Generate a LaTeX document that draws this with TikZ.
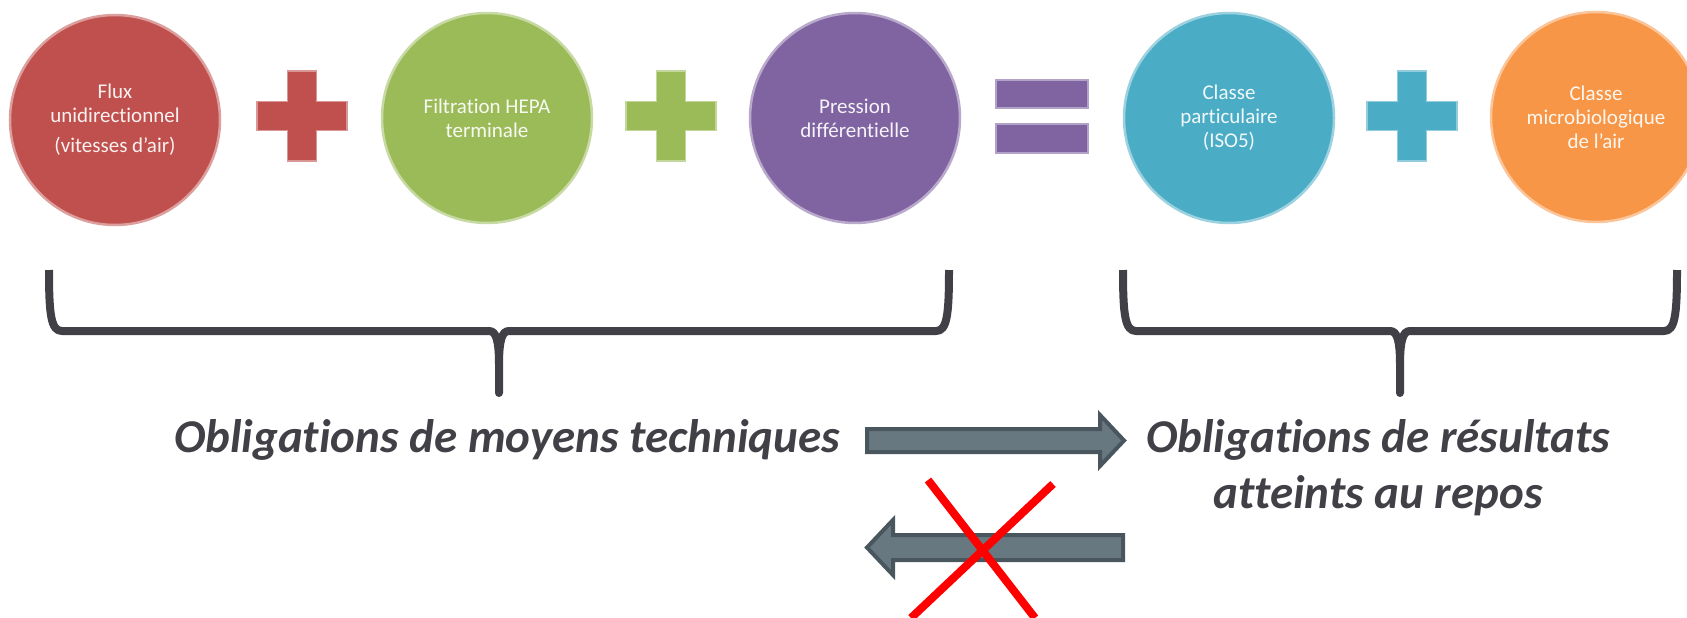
\documentclass[tikz,border=0pt]{standalone}
\usepackage{fontspec}
\setmainfont{Carlito}[Ligatures={NoCommon}]
\definecolor{cred}{HTML}{C0504D}
\definecolor{cgreen}{HTML}{9BBB59}
\definecolor{cpurple}{HTML}{8064A2}
\definecolor{cblue}{HTML}{4BACC6}
\definecolor{corange}{HTML}{F79646}
\definecolor{braceg}{HTML}{404046}
\definecolor{arrfill}{HTML}{687880}
\definecolor{arrdraw}{HTML}{4A565D}
\begin{document}
\begin{tikzpicture}[x=1pt,y=-1pt,
  bubble/.style={circle, minimum size=210pt, inner sep=0pt, align=center,
    font=\fontsize{21}{24}\selectfont, text=white!92!#1, fill=#1,
    draw=#1!55!white, line width=2.5pt},
  bracestyle/.style={draw=braceg, line width=8pt, line join=round},
  bigtext/.style={text=braceg, font=\fontsize{47}{56}\selectfont\bfseries\itshape, inner sep=0pt},
  blockarrow/.style={fill=arrfill, draw=arrdraw, line width=4pt},
  cross/.style={draw=red, line width=8pt},
  plussign/.pic={\filldraw[pic actions] (-14.5,-45) -- (14.5,-45) -- (14.5,-14.5) -- (45,-14.5)
     -- (45,14.5) -- (14.5,14.5) -- (14.5,45) -- (-14.5,45) -- (-14.5,14.5) -- (-45,14.5)
     -- (-45,-14.5) -- (-14.5,-14.5) -- cycle;},
  ]
\useasboundingbox (0,0) rectangle (1687,618);
\clip (0,0) rectangle (1687,618);

% circles
\node[bubble=cred] (flux) at (115,120) {Flux\\unidirectionnel\\[6pt](vitesses d’air)};
\node[bubble=cgreen] (hepa) at (487,118) {Filtration HEPA\\terminale};
\node[bubble=cpurple] (press) at (855,118) {Pression\\différentielle};
\node[bubble=cblue] (iso) at (1229,118) {Classe\\particulaire\\(ISO5)};
\node[bubble=corange] (micro) at (1596,117) {Classe\\microbiologique\\de l’air};

% operators
\pic[fill=cred, draw=cred!60!white, line width=1.5pt] (p1) at (302,116) {plussign};
\pic[fill=cgreen, draw=cgreen!60!white, line width=1.5pt] (p2) at (671,116) {plussign};
\pic[fill=cblue, draw=cblue!60!white, line width=1.5pt] (p3) at (1412,116) {plussign};
\filldraw[fill=cpurple, draw=cpurple!60!white, line width=1.5pt] (996,80) rectangle (1088,108);
\filldraw[fill=cpurple, draw=cpurple!60!white, line width=1.5pt] (996,124) rectangle (1088,153);

% braces
\draw[bracestyle] (49,270) .. controls (49,315) and (51,331) .. (62,331) -- (489,331)
  .. controls (496,331) and (499,340) .. (499,365) -- (499,393) -- (499,365)
  .. controls (499,340) and (502,331) .. (509,331) -- (936,331)
  .. controls (947,331) and (949,315) .. (949,270);
\draw[bracestyle] (1123,270) .. controls (1123,315) and (1125,331) .. (1136,331) -- (1390,331)
  .. controls (1397,331) and (1400,340) .. (1400,365) -- (1400,393) -- (1400,365)
  .. controls (1400,340) and (1403,331) .. (1410,331) -- (1664,331)
  .. controls (1675,331) and (1677,315) .. (1677,270);

% texts
\node[bigtext, anchor=base] (moyens) at (507,452) {Obligations de moyens techniques};
\node[bigtext, anchor=base] (resultats) at (1378,452)
  {\begin{tabular}[t]{@{}c@{}}Obligations de résultats\\atteints au repos\end{tabular}};

% block arrows
\draw[blockarrow] (867,429) -- (1100,429) -- (1100,415) -- (1124,440.5) -- (1100,466)
  -- (1100,452) -- (867,452) -- cycle;
\draw[blockarrow] (1123,535) -- (893,535) -- (893,520) -- (867,547.5) -- (893,575)
  -- (893,560) -- (1123,560) -- cycle;

% red cross
\draw[cross] (928,480) -- (1035,618);
\draw[cross] (1053,484) -- (911,618);
\end{tikzpicture}
\end{document}
